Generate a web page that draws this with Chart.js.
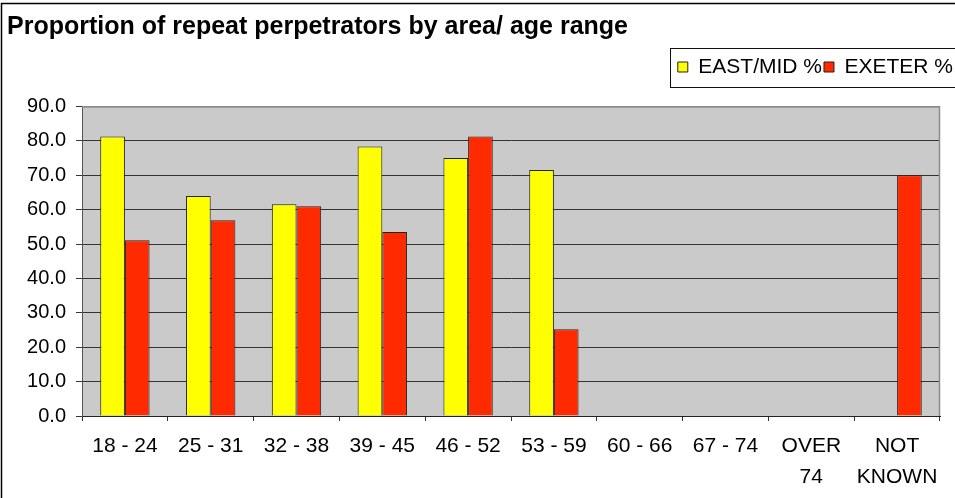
<!DOCTYPE html>
<html>
<head>
<meta charset="utf-8">
<script src="https://cdn.jsdelivr.net/npm/chart.js@4"></script>
<style>
  html, body { margin: 0; padding: 0; background: #fff; }
  #wrap { width: 955px; height: 498px; position: relative; }
</style>
</head>
<body>
<div id="wrap"><canvas id="myChart"></canvas></div>
<script>
const ageRanges = ['18 - 24', '25 - 31', '32 - 38', '39 - 45', '46 - 52', '53 - 59', '60 - 66', '67 - 74', ['OVER', '74'], ['NOT', 'KNOWN']];
const eastMid = [81.3, 64.0, 61.6, 78.4, 75.0, 71.5, null, null, null, null];
const exeter  = [51.1, 56.9, 61.0, 53.5, 81.3, 25.2, null, null, null, 70.0];
const yTicks  = [0, 10, 20, 30, 40, 50, 60, 70, 80, 90];

const FONT = "'Liberation Sans', Arial, sans-serif";

// grey plot background, plot border, legend frame and the outer frame
const excelLook = {
    id: 'excelLook',
    beforeDraw(chart) {
        const {ctx, chartArea: a} = chart;
        ctx.save();
        ctx.fillStyle = '#fff';
        ctx.fillRect(0, 0, chart.width, chart.height);
        ctx.fillStyle = '#cacaca';
        ctx.fillRect(a.left, a.top, a.right - a.left, a.bottom - a.top);
        ctx.restore();
    },
    beforeDatasetsDraw(chart) {
        const {ctx, chartArea: a} = chart;
        ctx.save();
        ctx.strokeStyle = '#8c8c8c';
        ctx.lineWidth = 1.5;
        ctx.beginPath();
        ctx.moveTo(a.left, a.top + 0.5);
        ctx.lineTo(a.right - 0.5, a.top + 0.5);
        ctx.lineTo(a.right - 0.5, a.bottom);
        ctx.stroke();
        ctx.restore();
    },
    afterDraw(chart) {
        const {ctx} = chart;
        ctx.save();
        ctx.strokeStyle = '#000';
        ctx.lineWidth = 1.5;
        ctx.strokeRect(1.5, 3.5, chart.width + 10, chart.height + 10);
        const hb = chart.legend.legendHitBoxes;
        if (hb && hb.length) {
            ctx.lineWidth = 1;
            ctx.strokeStyle = '#111';
            ctx.strokeRect(Math.round(hb[0].left) - 7.5, 48.5, 400, 39);
        }
        ctx.restore();
    }
};

new Chart(document.getElementById('myChart'), {
    type: 'bar',
    data: {
        labels: ageRanges,
        datasets: [{
            label: 'EAST/MID %',
            data: eastMid,
            backgroundColor: '#ffff00',
            borderColor: '#222',
            borderWidth: 1
        }, {
            label: 'EXETER %',
            data: exeter,
            backgroundColor: '#ff2a00',
            borderColor: '#222',
            borderWidth: 1
        }]
    },
    options: {
        responsive: true,
        maintainAspectRatio: false,
        animation: false,
        devicePixelRatio: 1,
        categoryPercentage: 0.575,
        barPercentage: 1,
        layout: { padding: { left: 7, right: 0, top: 0, bottom: 0 } },
        scales: {
            x: {
                afterFit: s => { s.height = 82; },
                grid: { drawOnChartArea: false, drawTicks: true, tickLength: 5, offset: true, color: '#333' },
                border: { display: true, color: '#222', width: 1 },
                ticks: { color: '#000', padding: 10, maxRotation: 0, autoSkip: false, font: { family: FONT, size: 21, lineHeight: 1.48 } }
            },
            y: {
                min: 0,
                max: 90,
                afterBuildTicks: s => { s.ticks = yTicks.map(v => ({ value: v })); },
                afterFit: s => { s.width = 75; },
                grid: {
                    color: c => c.tick && c.tick.value === 90 ? '#8c8c8c' : '#333',
                    tickColor: '#333',
                    tickLength: 6,
                    lineWidth: 1
                },
                border: { display: true, color: '#555' },
                ticks: { color: '#000', padding: 10, callback: v => Number(v).toFixed(1), font: { family: FONT, size: 20 } }
            },
            yRight: {
                position: 'right',
                display: true,
                grid: { display: false },
                border: { display: false },
                ticks: { display: false },
                afterFit: s => { s.width = 15; }
            }
        },
        plugins: {
            title: {
                display: true,
                text: 'Proportion of repeat perpetrators by area/ age range',
                align: 'start',
                color: '#000',
                font: { family: FONT, size: 25, weight: 'bold', lineHeight: 1.2 },
                padding: { top: 12, bottom: 12.5 }
            },
            legend: {
                display: true,
                position: 'top',
                align: 'end',
                weight: 1000,
                labels: {
                    color: '#000',
                    boxWidth: 10,
                    boxHeight: 10,
                    padding: 2,
                    font: { family: FONT, size: 21 }
                }
            },
            subtitle: {
                display: true,
                text: '',
                weight: 500,
                font: { size: 1, lineHeight: 1 },
                padding: { top: 0, bottom: 18 }
            },
            tooltip: { enabled: false }
        }
    },
    plugins: [excelLook]
});
</script>
</body>
</html>
